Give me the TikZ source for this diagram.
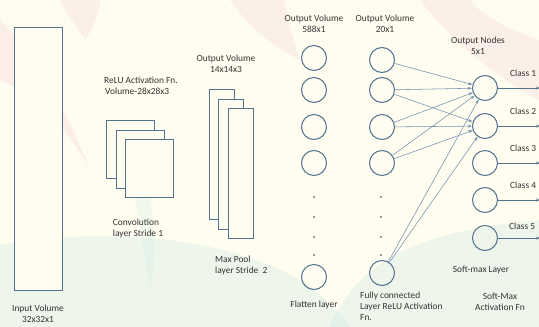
\documentclass[tikz,border=0pt]{standalone}
\usepackage{fontspec}
\setmainfont{Carlito}
\usetikzlibrary{arrows.meta}
\definecolor{paper}{HTML}{FFFDF0}
\definecolor{edge}{HTML}{52728F}
\definecolor{wire}{HTML}{7590B0}
\definecolor{ink}{HTML}{333333}
\definecolor{rosewash}{HTML}{F6C9CF}
\definecolor{tealwash}{HTML}{BFE3E0}

\begin{document}
\begin{tikzpicture}[x=1pt,y=-1pt,
  lbl/.style={text=ink, font=\fontsize{9.4}{11}\selectfont, inner sep=0pt, align=center},
  lbll/.style={lbl, align=left},
  box/.style={draw=edge, line width=1pt, fill=paper, inner sep=0pt},
  unit/.style={circle, draw=edge, line width=1pt, minimum size=25pt, inner sep=0pt},
  link/.style={draw=wire, line width=0.55pt, -{Stealth[length=4.5pt,width=3pt]}},
  outlink/.style={draw=edge, line width=0.8pt, -{Stealth[length=4pt,width=3pt]}},
  dot/.style={circle, fill=ink, inner sep=0pt, minimum size=1.8pt}]

% paper and faint background wash
\fill[paper] (0,0) rectangle (539,327);
\useasboundingbox (0,0) rectangle (539,327);
\fill[rosewash, opacity=0.3] (0,20) .. controls (40,60) and (70,120) .. (90,170)
  .. controls (70,130) and (30,90) .. (0,80) -- cycle;
\fill[rosewash, opacity=0.25] (60,0) .. controls (70,20) and (80,30) .. (85,40)
  .. controls (95,25) and (100,10) .. (100,0) -- cycle;
\fill[rosewash, opacity=0.25] (230,0) .. controls (250,30) and (280,50) .. (300,60)
  .. controls (290,30) and (285,10) .. (285,0) -- cycle;
\fill[rosewash, opacity=0.25] (420,0) .. controls (450,40) and (500,80) .. (539,100)
  -- (539,40) .. controls (510,30) and (480,15) .. (470,0) -- cycle;
\fill[tealwash, opacity=0.25] (0,245) .. controls (120,225) and (230,240) .. (300,280)
  .. controls (330,300) and (345,320) .. (350,327) -- (0,327) -- cycle;
\fill[tealwash, opacity=0.25] (330,327) .. controls (360,250) and (440,230) .. (539,220)
  -- (539,327) -- cycle;
\fill[tealwash, opacity=0.2] (120,140) .. controls (135,180) and (140,230) .. (150,290)
  .. controls (160,230) and (150,170) .. (130,130) -- cycle;

% input volume
\node[box, minimum width=48pt, minimum height=263pt] (inp) at (38,158.5) {};
\node[lbl] (inplbl) at (38,314) {Input Volume\\32x32x1};

% convolution feature maps
\node[box, minimum width=48pt, minimum height=58pt] (c1) at (130,149) {};
\node[box, minimum width=48pt, minimum height=58pt] (c2) at (140,159) {};
\node[box, minimum width=48pt, minimum height=58pt] (c3) at (149,168.5) {};
\node[lbll] (relulbl) at (141,86) {ReLU Activation Fn.\\\hspace*{1pt}Volume-28x28x3};
\node[lbll] (convlbl) at (138,228) {Convolution\\layer Stride 1};

% max pool feature maps
\node[box, minimum width=25pt, minimum height=130pt] (p1) at (221.5,154) {};
\node[box, minimum width=25pt, minimum height=130pt] (p2) at (231,164) {};
\node[box, minimum width=25pt, minimum height=130pt] (p3) at (241,173) {};
\node[lbl] (poolout) at (226,64) {Output Volume\\14x14x3};
\node[lbll, anchor=west] (poollbl) at (215,265) {Max Pool\\layer Stride\ \ 2};

% flatten layer
\foreach \i/\y in {1/58,2/90,3/127,4/163,5/277} \node[unit] (f\i) at (314,\y) {};
\foreach \i/\y in {1/197,2/217,3/237,4/255} \node[dot] (fd\i) at (314,\y) {};
\node[lbl] (flatout) at (314,24) {Output Volume\\588x1};
\node[lbl] (flatlbl) at (314,305) {Flatten layer};

% fully connected layer
\foreach \i/\y in {1/60,2/90,3/127,4/163,5/273} \node[unit] (h\i) at (382,\y) {};
\foreach \i/\y in {1/197,2/217,3/237,4/255} \node[dot] (hd\i) at (381,\y) {};
\node[lbl] (fcout) at (385,24) {Output Volume\\20x1};
\node[lbll, anchor=north west] (fclbl) at (360,292) {Fully connected\\Layer ReLU Activation\\Fn.};

% soft-max output nodes
\foreach \i/\y in {1/88,2/126,3/163,4/200,5/238} \node[unit] (o\i) at (485,\y) {};
\node[lbl] (outlbl) at (478,46) {Output Nodes\\5x1};
\node[lbl] (smlbl) at (481,270) {Soft-max Layer};
\node[lbl] (smfn) at (500,302) {Soft-Max\\Activation Fn};

% fully connected links
\draw[link] (h1) -- (o1);
\foreach \i in {2,3,4,5} {
  \draw[link] (h\i) -- (o1);
  \draw[link] (h\i) -- (o2);
}

% class outputs
\foreach \i/\y in {1/88,2/126,3/163,4/200,5/238} {
  \coordinate (k\i) at (540,\y);
  \draw[outlink] (o\i) -- (k\i);
}
\node[lbl, anchor=west] (cl1) at (510,73) {Class 1};
\node[lbl, anchor=west] (cl2) at (510,111) {Class 2};
\node[lbl, anchor=west] (cl3) at (510,148) {Class 3};
\node[lbl, anchor=west] (cl4) at (510,185) {Class 4};
\node[lbl, anchor=west] (cl5) at (509,226) {Class 5};
\end{tikzpicture}
\end{document}
